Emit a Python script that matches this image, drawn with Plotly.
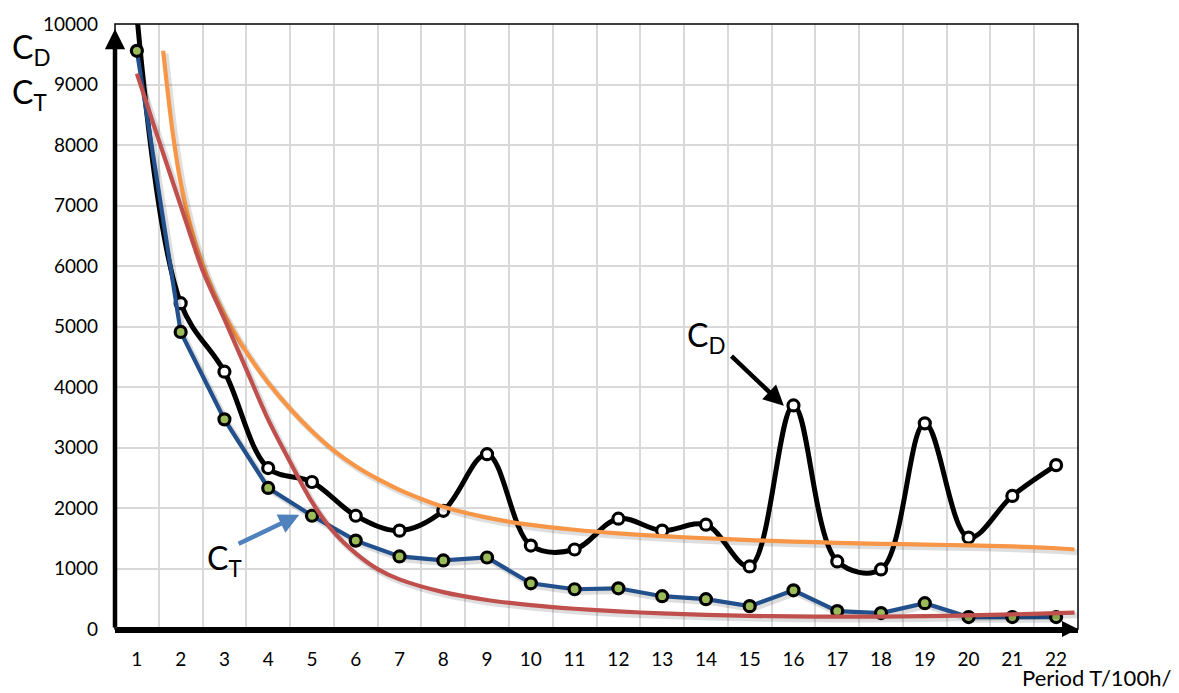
import plotly.graph_objects as go

# ---- data ----
periods = list(range(1, 23))
cd_values = [10150, 5386, 4253, 2660, 2430, 1872, 1626, 1954, 2890, 1379, 1314,
             1823, 1626, 1724, 1034, 3695, 1117, 985, 3399, 1511, 2200, 2709]
ct_values = [9557, 4910, 3465, 2332, 1872, 1461, 1199, 1133, 1182, 755, 657,
             673, 542, 493, 378, 640, 296, 263, 427, 197, 197, 197]

# trend curves
cd_trend_x = [1.6, 1.7, 1.8, 1.9, 2.0, 2.25, 2.5, 2.75, 3.0, 3.5, 4.0, 4.5, 5.0, 5.5,
              6.0, 6.5, 7.0, 7.5, 8, 9, 10, 11, 12, 13, 14, 15, 16, 17, 18, 19, 20,
              21, 22, 22.42]
cd_trend_y = [9557, 8900, 8300, 7800, 7380, 6600, 6020, 5570, 5200, 4580, 4070, 3640,
              3270, 2950, 2690, 2480, 2300, 2150, 2020, 1840, 1720, 1640, 1580, 1535,
              1500, 1470, 1445, 1425, 1408, 1395, 1382, 1365, 1335, 1314]
ct_trend_x = [1, 1.5, 2, 2.5, 3, 3.5, 4, 4.5, 5, 5.5, 6, 6.5, 7, 8, 9, 10, 11, 12, 13,
              14, 15, 16, 17, 18, 19, 20, 21, 22, 22.42]
ct_trend_y = [9180, 8080, 7000, 5930, 5120, 4290, 3460, 2760, 2100, 1600, 1250, 990,
              820, 610, 480, 395, 335, 290, 258, 235, 218, 208, 203, 205, 212, 225,
              242, 262, 272]

y_ticks = list(range(0, 10001, 1000))
x_title = "Period T/100h/"

FONT = "Lato"
SHADOW = "rgba(0,0,0,0.13)"
DX, DY = 0.055, -45   # small drop-shadow offset (in axis units, ~2.5 px)


def shadow(xs, ys, width, shape="linear"):
    return go.Scatter(
        x=[v + DX for v in xs], y=[v + DY for v in ys], mode="lines",
        line=dict(color=SHADOW, width=width, shape=shape, smoothing=0.8 if shape == "spline" else None),
        hoverinfo="skip", showlegend=False,
    )


fig = go.Figure()

fig.add_trace(go.Scatter(
    x=periods, y=cd_values, mode="lines+markers", name="C_D",
    line=dict(color="black", width=5, shape="spline", smoothing=1.0),
    marker=dict(size=11, color="white", line=dict(color="black", width=3.2)),
))
fig.add_trace(shadow(periods, ct_values, 6))
fig.add_trace(go.Scatter(
    x=periods, y=ct_values, mode="lines+markers", name="C_T",
    line=dict(color="#22508c", width=4.2),
    marker=dict(size=11, color="#9bbb59", line=dict(color="black", width=3.2)),
))
fig.add_trace(shadow(cd_trend_x, cd_trend_y, 6, "spline"))
fig.add_trace(go.Scatter(
    x=cd_trend_x, y=cd_trend_y, mode="lines", name="C_D trend",
    line=dict(color="#f79646", width=4.2, shape="spline", smoothing=0.8),
))
fig.add_trace(shadow(ct_trend_x, ct_trend_y, 6, "spline"))
fig.add_trace(go.Scatter(
    x=ct_trend_x, y=ct_trend_y, mode="lines", name="C_T trend",
    line=dict(color="#c0504d", width=4.2, shape="spline", smoothing=0.8),
))

fig.update_layout(
    width=1179, height=693,
    margin=dict(l=115, r=101, t=20, b=64),
    paper_bgcolor="white", plot_bgcolor="white",
    showlegend=False,
    font=dict(family=FONT, size=19, color="black"),
    xaxis=dict(
        range=[0.5, 22.5], tickmode="array", tickvals=periods,
        ticktext=[str(p) for p in periods],
        showgrid=False, zeroline=False,
        showline=True, linecolor="black", linewidth=4,
        ticks="", ticklabelstandoff=10,
        minor=dict(tick0=0.5, dtick=1, showgrid=True, gridcolor="#d9d9d9", gridwidth=2),
    ),
    yaxis=dict(
        range=[0, 10000], tickmode="array", tickvals=y_ticks,
        ticktext=[str(v) for v in y_ticks],
        showgrid=True, gridcolor="#d9d9d9", gridwidth=2,
        zeroline=False, showline=False,
        ticks="", ticklabelstandoff=16,
    ),
    shapes=[
        dict(type="rect", xref="x domain", yref="y domain", x0=0, x1=1, y0=0, y1=1,
             line=dict(color="black", width=1.5), fillcolor="rgba(0,0,0,0)", layer="above"),
    ],
)

annotations = [
    # axis arrows
    dict(x=0.5, y=9918, ax=0.5, ay=0, xref="x", yref="y", axref="x", ayref="y",
         text="", showarrow=True, arrowhead=2, arrowwidth=4.5, arrowsize=0.9, arrowcolor="black"),
    dict(x=22.5, y=0, ax=0.5, ay=0, xref="x", yref="y", axref="x", ayref="y",
         text="", showarrow=True, arrowhead=2, arrowwidth=4, arrowsize=0.8, arrowcolor="black"),
    # C_D pointer
    dict(x=15.78, y=3690, ax=14.55, ay=4532, xref="x", yref="y", axref="x", ayref="y",
         text="", showarrow=True, arrowhead=2, arrowwidth=4.5, arrowsize=0.9, arrowcolor="black"),
    # C_T pointer
    dict(x=4.71, y=1888, ax=3.29, ay=1396, xref="x", yref="y", axref="x", ayref="y",
         text="", showarrow=True, arrowhead=2, arrowwidth=4.5, arrowsize=0.9, arrowcolor="#4f81bd"),
    # labels
    dict(x=13.52, y=4830, xref="x", yref="y", text="C<sub>D</sub>", showarrow=False,
         xanchor="left", yanchor="middle", font=dict(size=32, family=FONT)),
    dict(x=2.56, y=1133, xref="x", yref="y", text="C<sub>T</sub>", showarrow=False,
         xanchor="left", yanchor="middle", font=dict(size=32, family=FONT)),
    dict(x=-0.109, y=0.958, xref="paper", yref="paper", text="C<sub>D</sub>", showarrow=False,
         xanchor="left", yanchor="middle", font=dict(size=32, family=FONT)),
    dict(x=-0.109, y=0.884, xref="paper", yref="paper", text="C<sub>T</sub>", showarrow=False,
         xanchor="left", yanchor="middle", font=dict(size=32, family=FONT)),
    dict(x=1.0976, y=-0.1045, xref="paper", yref="paper", text=x_title, showarrow=False,
         xanchor="right", yanchor="bottom", borderpad=0, font=dict(size=22, family=FONT)),
]
fig.update_layout(annotations=annotations)

fig.write_html("out.html")
